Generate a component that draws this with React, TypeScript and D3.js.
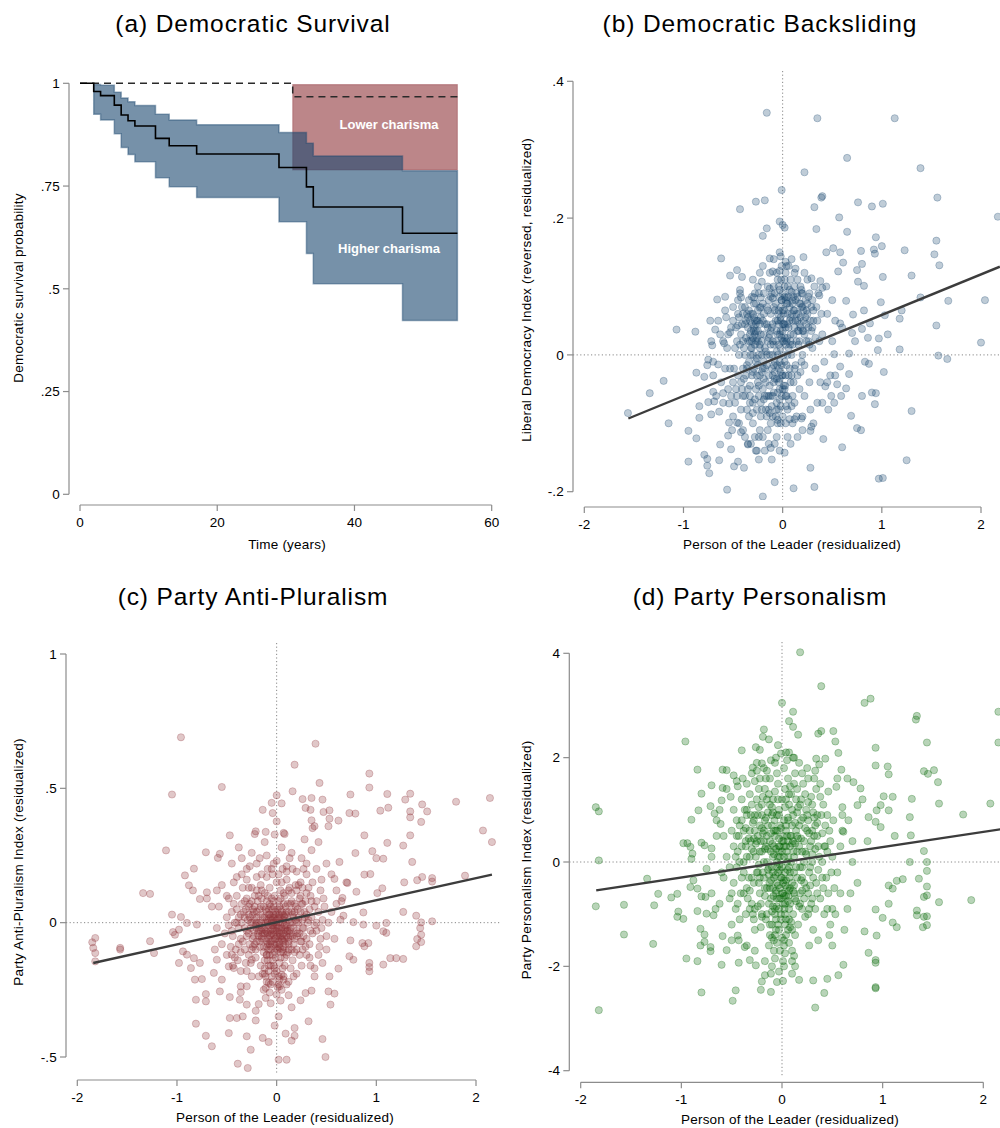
import React from 'react';
import * as d3 from 'd3';

// ---------- (a) Kaplan-Meier survival ----------
const highTime = [0, 2, 3, 5, 6, 7, 8, 11, 13, 17, 29, 33, 34, 47, 55];
const highSurv = [1, 0.98, 0.97, 0.947, 0.923, 0.909, 0.896, 0.866, 0.848, 0.828, 0.795, 0.748, 0.699, 0.635, 0.635];
const highBandTime = [2, 3, 5, 6, 7, 8, 11, 13, 17, 29, 33, 34, 47, 55];
const highUpper = [0.997, 0.995, 0.978, 0.964, 0.955, 0.946, 0.925, 0.911, 0.899, 0.88, 0.854, 0.823, 0.787, 0.787];
const highLower = [0.925, 0.911, 0.877, 0.844, 0.827, 0.809, 0.77, 0.748, 0.722, 0.663, 0.586, 0.512, 0.423, 0.423];

const lowTime = [0, 31, 55];
const lowSurv = [1, 0.967, 0.967];
const lowBandTime = [31, 55];
const lowUpper = [0.997, 0.997];
const lowLower = [0.789, 0.789];

const survTicksY = [0, 0.25, 0.5, 0.75, 1];
const survTicksX = [0, 20, 40, 60];

// ---------- (b) Democratic backsliding ----------
const backslidingPoints: [number, number][] = [
  [-0.16, 0.354], [0.35, 0.346], [1.13, 0.346], [0.65, 0.288], [1.39, 0.273], [0.22, 0.267], [-0.01, 0.241],
  [0.39, 0.23], [0.4, 0.232], [1.56, 0.23], [-0.43, 0.213], [-0.27, 0.224], [-0.18, 0.226], [0.32, 0.216], [0.76, 0.223],
  [0.9, 0.217], [1.01, 0.221], [2.17, 0.202], [0.57, 0.201], [-0.03, 0.195], [0.02, 0.186], [0.34, 0.184], [0.0, 0.19],
  [-0.16, 0.185], [-0.2, 0.174], [0.65, 0.18], [0.94, 0.172], [1.0, 0.159], [0.51, 0.156], [0.44, 0.15], [0.58, 0.15],
  [0.79, 0.152], [0.92, 0.154], [0.93, 0.148], [1.23, 0.153], [1.55, 0.167], [1.53, 0.147], [1.58, 0.131], [-0.62, 0.141],
  [-0.13, 0.141], [-0.02, 0.144], [0.03, 0.136], [0.21, 0.143], [0.61, 0.135], [0.8, 0.133], [0.75, 0.124], [0.56, 0.122],
  [-0.46, 0.124], [-0.53, 0.116], [-0.41, 0.114], [-0.23, 0.12], [-0.1, 0.122], [-0.03, 0.123], [0.13, 0.126], [0.29, 0.112],
  [0.38, 0.108], [1.01, 0.114], [1.3, 0.116], [0.76, 0.107], [0.82, 0.101], [-0.21, 0.107], [-0.13, 0.097], [-0.43, 0.095],
  [-0.42, 0.084], [-0.66, 0.081], [-0.58, 0.085], [-0.29, 0.084], [-0.22, 0.084], [-0.1, 0.083], [0.04, 0.084], [0.09, 0.092],
  [0.19, 0.09], [0.4, 0.098], [0.37, 0.087], [0.64, 0.079], [1.39, 0.084], [1.67, 0.079], [2.04, 0.08], [0.99, 0.077],
  [-0.58, 0.065], [-0.41, 0.07], [-0.32, 0.06], [-0.23, 0.069], [0.71, 0.059], [0.82, 0.065], [1.18, 0.053], [1.03, 0.058],
  [1.2, 0.065], [-0.73, 0.05], [-0.57, 0.055], [-0.45, 0.043], [0.58, 0.046], [0.88, 0.046], [1.55, 0.043], [-1.07, 0.037],
  [-0.88, 0.034], [-0.68, 0.037], [-0.63, 0.03], [-0.53, 0.033], [0.8, 0.038], [0.7, 0.032], [0.86, 0.025], [0.97, 0.024],
  [1.06, 0.03], [-0.71, 0.014], [-0.59, 0.017], [0.73, 0.02], [1.18, 0.008], [0.96, 0.007], [2.0, 0.018], [1.57, -0.001],
  [1.66, -0.006], [-0.75, -0.007], [-0.76, -0.015], [-0.65, -0.014], [0.52, 0.001], [0.67, 0.002], [0.83, -0.01], [0.87, -0.013],
  [0.58, -0.017], [0.67, -0.028], [1.02, -0.025], [-0.87, -0.026], [-0.79, -0.032], [-0.7, -0.03], [-1.2, -0.038], [-1.34, -0.056],
  [0.53, -0.03], [0.55, -0.043], [0.64, -0.049], [0.43, -0.046], [0.9, -0.055], [0.94, -0.056], [0.49, -0.06], [0.59, -0.06],
  [0.8, -0.06], [-0.7, -0.054], [-0.6, -0.056], [-0.69, -0.068], [-0.75, -0.069], [-0.84, -0.075], [-0.84, -0.092], [-0.72, -0.087],
  [-0.64, -0.083], [-0.54, -0.071], [0.93, -0.072], [0.69, -0.089], [1.3, -0.082], [-1.56, -0.085], [-1.15, -0.1], [-0.95, -0.111],
  [-0.87, -0.122], [-0.54, -0.099], [-0.46, -0.099], [-0.51, -0.11], [-0.55, -0.118], [-0.63, -0.131], [-0.42, -0.113], [-0.35, -0.131],
  [-0.27, -0.14], [-0.24, -0.12], [-0.12, -0.136], [0.02, -0.143], [0.07, -0.094], [0.12, -0.094], [0.19, -0.093], [0.28, -0.111],
  [0.29, -0.105], [0.41, -0.123], [0.75, -0.107], [0.79, -0.11], [0.6, -0.135], [-0.79, -0.146], [-0.76, -0.152], [-0.76, -0.162],
  [-0.74, -0.173], [-0.95, -0.156], [-0.64, -0.154], [-0.52, -0.138], [-0.49, -0.163], [-0.45, -0.156], [-0.39, -0.165], [-0.24, -0.153],
  [-0.11, -0.153], [1.25, -0.154], [0.28, -0.165], [0.97, -0.181], [1.01, -0.18], [-0.08, -0.186], [0.11, -0.195], [0.32, -0.193],
  [-0.56, -0.197], [-0.2, -0.207],
  [-0.3, 0.06], [-0.28, 0.03], [-0.32, 0.01], [-0.27, -0.01], [-0.25, 0.02], [-0.35, 0.04], [-0.38, 0.0], [-0.4, -0.02],
  [-0.42, 0.03], [-0.45, -0.03], [-0.48, 0.01], [-0.5, -0.04], [-0.35, -0.05], [-0.3, -0.07], [-0.25, -0.04], [-0.2, -0.02],
  [-0.18, 0.01], [-0.15, 0.04], [-0.12, 0.06], [-0.1, 0.02], [-0.08, -0.01], [-0.05, 0.03], [-0.02, 0.05], [0.0, 0.02],
  [0.02, -0.01], [0.03, 0.04], [0.05, 0.06], [0.06, 0.01], [0.08, 0.03], [0.1, 0.05], [0.12, -0.02], [0.14, 0.02],
  [0.16, 0.06], [0.18, 0.04], [0.2, 0.0], [0.22, 0.03], [0.25, 0.06], [0.28, 0.05], [0.3, 0.01], [0.33, -0.02],
  [0.27, -0.04], [0.22, -0.06], [0.17, -0.05], [0.12, -0.07], [0.08, -0.04], [0.04, -0.06], [0.0, -0.03], [-0.03, -0.05],
  [-0.06, -0.07], [-0.09, -0.04], [-0.12, -0.06], [-0.14, -0.03], [-0.17, -0.08], [-0.2, -0.05], [-0.22, -0.09], [-0.26, -0.08],
  [-0.3, -0.1], [-0.34, -0.09], [-0.38, -0.06], [-0.42, -0.08], [-0.46, -0.06], [-0.5, -0.09], [-0.55, -0.05], [-0.58, -0.02],
  [-0.6, 0.02], [-0.62, -0.04], [-0.52, 0.04], [-0.45, 0.06], [-0.38, 0.07], [-0.22, 0.07], [-0.08, 0.09], [0.02, 0.1],
  [0.1, 0.08], [0.2, 0.09], [0.3, 0.08], [0.35, 0.05], [0.4, 0.03], [0.42, -0.01], [0.38, -0.04], [0.35, -0.07],
  [0.28, -0.08], [0.2, -0.09], [0.1, -0.1], [0.0, -0.09], [-0.05, -0.1], [-0.1, -0.09], [-0.15, -0.11], [-0.2, -0.12],
  [-0.28, -0.12], [-0.05, 0.0], [-0.1, 0.0], [0.05, 0.0], [-0.02, 0.01], [-0.03, 0.03], [0.01, 0.06], [0.06, 0.04],
  [-0.07, 0.05], [-0.13, 0.03], [-0.18, -0.02], [-0.24, 0.0], [-0.29, 0.04], [-0.33, 0.02], [-0.31, -0.03], [-0.16, -0.06],
  [-0.11, -0.02], [-0.04, -0.02], [0.03, -0.03], [0.09, 0.0], [0.13, 0.05], [0.07, 0.07], [-0.01, 0.08], [-0.06, 0.12],
  [0.04, 0.13], [0.15, 0.11], [-0.15, 0.1], [-0.25, 0.1], [0.25, 0.11], [-0.08, -0.13], [0.05, -0.12], [-0.18, -0.14],
  [0.15, -0.12], [-0.35, -0.13], [-0.4, -0.11], [0.45, 0.06], [0.5, 0.02], [0.48, -0.03], [-0.65, 0.05], [-0.7, -0.01],
  [-0.02, 0.035], [0.01, 0.045], [-0.04, 0.015], [0.02, 0.025], [-0.01, -0.015], [-0.06, -0.035], [-0.03, -0.065], [-0.09, -0.055],
  [-0.28, 0.015], [-0.31, 0.045], [-0.26, 0.05], [0.04, 0.075], [0.11, 0.065], [0.17, 0.075], [0.23, 0.055], [-0.19, -0.035],
  [-0.02, 0.07], [0.0, 0.09], [0.02, 0.11], [-0.01, 0.13], [0.03, 0.08], [0.05, 0.1], [0.07, 0.05], [0.09, 0.06],
  [0.11, 0.03], [0.13, 0.08], [0.15, 0.05], [0.17, 0.02], [0.19, 0.07], [0.21, 0.05], [0.23, 0.08], [0.26, 0.04],
  [0.29, 0.07], [0.31, 0.05], [0.24, 0.02], [0.19, -0.01], [0.15, -0.03], [0.11, -0.04], [0.07, -0.02], [0.04, 0.02],
  [0.01, 0.0], [-0.01, -0.03], [-0.03, -0.01], [-0.05, 0.05], [-0.07, 0.02], [-0.09, 0.07], [-0.11, 0.04], [-0.13, 0.0],
  [-0.15, 0.02], [-0.17, -0.04], [-0.19, 0.03], [-0.21, 0.0], [-0.23, -0.03], [-0.25, 0.05], [-0.27, 0.02], [-0.29, -0.02],
  [-0.31, 0.02], [-0.33, 0.05], [-0.35, 0.02], [-0.37, -0.03], [-0.3, 0.0], [-0.28, 0.05], [-0.32, 0.035], [-0.26, 0.025],
  [-0.34, -0.01], [-0.24, -0.06], [-0.21, -0.08], [-0.18, -0.06], [-0.14, -0.08], [-0.1, -0.06], [-0.07, -0.09], [-0.04, -0.08],
  [-0.01, -0.06], [0.02, -0.05], [0.05, -0.08], [-0.02, -0.1], [-0.06, -0.12], [-0.12, -0.1], [-0.16, -0.09], [-0.23, -0.11],
  [-0.33, -0.07], [-0.41, -0.05], [-0.44, 0.0], [-0.47, 0.04], [-0.4, 0.02], [-0.36, 0.06], [-0.2, 0.05], [-0.16, 0.07],
  [-0.11, 0.09], [-0.04, 0.1], [0.08, 0.11], [0.12, 0.1], [-0.13, 0.12], [-0.19, 0.09], [0.18, 0.1], [0.27, 0.09],
  [0.32, 0.1], [0.22, 0.12], [-0.03, 0.15], [0.09, 0.14], [-0.09, 0.14], [-0.2, 0.13], [-0.3, 0.11], [-0.43, 0.09],
  [-0.5, 0.07], [-0.56, 0.01], [-0.53, -0.02], [-0.48, -0.07], [-0.44, -0.1], [-0.38, -0.12], [-0.32, -0.13], [-0.26, -0.14],
  [-0.14, -0.13], [-0.03, -0.14], [0.08, -0.13], [0.2, -0.11], [0.31, -0.1], [0.4, -0.07], [0.45, -0.04], [0.39, 0.06],
  [0.36, 0.09], [0.44, 0.1], [0.5, 0.08], [0.53, 0.05], [0.46, -0.08], [0.52, -0.07], [0.6, 0.04], [-0.67, -0.06],
  [-0.72, 0.02], [-0.6, -0.07], [0.0, 0.045], [0.015, 0.065], [-0.035, 0.085], [0.045, 0.025], [-0.055, -0.015], [0.035, -0.075],
  [-0.08, -0.025], [0.06, 0.085], [-0.015, 0.11], [0.025, -0.045], [-0.045, 0.06], [0.075, 0.015], [-0.3, 0.025], [-0.27, 0.045],
  [-0.25, 0.065], [-0.22, 0.03], [-0.29, 0.075], [0.14, 0.09], [0.18, 0.055], [0.25, 0.075], [0.1, 0.075], [0.16, 0.035],
  [-0.43, 0.015], [-0.41, 0.045], [-0.39, -0.035], [-0.37, 0.025], [-0.36, -0.015], [-0.34, 0.065], [-0.33, -0.045], [-0.32, 0.0],
  [-0.31, 0.085], [-0.3, -0.025], [-0.29, 0.035], [-0.28, -0.065], [-0.27, 0.075], [-0.26, -0.005], [-0.25, 0.035], [-0.24, -0.045],
  [-0.23, 0.015], [-0.22, 0.055], [-0.21, -0.025], [-0.2, 0.075], [-0.19, -0.065], [-0.18, 0.045], [-0.17, 0.005], [-0.16, -0.015],
  [-0.15, 0.065], [-0.14, 0.025], [-0.13, -0.045], [-0.12, 0.085], [-0.11, -0.075], [-0.1, 0.045], [-0.09, 0.015], [-0.08, -0.035],
  [-0.07, 0.075], [-0.06, 0.005], [-0.05, -0.055], [-0.04, 0.045], [-0.03, 0.095], [-0.02, -0.025], [-0.01, 0.025], [0.0, 0.065],
  [0.01, -0.045], [0.02, 0.085], [0.03, 0.015], [0.04, -0.015], [0.05, 0.045], [0.06, -0.065], [0.07, 0.095], [0.08, 0.055],
  [0.09, -0.03], [0.1, 0.015], [0.11, 0.085], [0.12, 0.04], [0.13, -0.015], [0.14, 0.06], [0.15, 0.085], [0.16, 0.015],
  [0.17, 0.045], [0.18, -0.025], [0.19, 0.095], [0.2, 0.035], [0.21, 0.065], [0.22, -0.015], [0.24, 0.045], [0.26, 0.085],
  [0.27, 0.015], [0.29, 0.035], [0.31, 0.065], [0.33, 0.025], [-0.35, 0.055], [-0.33, 0.03], [-0.31, 0.01], [-0.29, 0.055],
  [-0.27, 0.035], [-0.25, -0.015], [-0.23, 0.045], [-0.21, 0.02], [-0.02, 0.055], [0.0, 0.035], [-0.04, 0.065], [0.02, 0.045],
  [-0.01, 0.08], [0.01, 0.02], [-0.03, -0.035], [0.03, -0.06], [-0.06, -0.08], [-0.02, -0.075], [-0.08, 0.065], [-0.12, 0.035],
  [-0.16, 0.045], [-0.14, -0.06], [-0.1, -0.03], [-0.06, 0.035], [0.05, 0.075], [0.08, 0.02], [0.12, 0.065], [0.15, 0.035],
  [0.18, 0.075], [0.21, 0.035], [0.24, 0.065], [-0.38, 0.045], [-0.4, -0.06], [-0.46, 0.02], [-0.49, -0.02], [-0.44, 0.055],
  [-0.3, -0.085], [-0.22, -0.07], [-0.13, -0.085], [-0.05, -0.095], [0.03, -0.1], [0.09, -0.075], [0.14, -0.09],
  [-0.55, 0.03], [-0.52, -0.06], [-0.5, 0.05], [-0.47, -0.05], [-0.45, 0.08], [-0.42, -0.04], [-0.4, 0.06], [-0.37, 0.05],
  [-0.36, -0.08], [-0.34, 0.08], [-0.28, 0.09], [-0.24, 0.09], [-0.19, 0.06], [-0.14, 0.08], [-0.09, 0.1], [-0.05, 0.11],
  [0.03, 0.12], [0.06, 0.13], [0.12, 0.12], [0.2, 0.07], [0.26, 0.02], [0.3, 0.04], [0.34, 0.07], [0.37, 0.02],
  [-0.36, -0.02], [-0.39, 0.01], [-0.26, -0.03], [-0.23, 0.01], [-0.19, -0.01], [0.0, -0.05], [-0.04, -0.04], [0.06, -0.03],
  [-0.09, -0.015], [-0.16, 0.0], [-0.12, 0.015], [0.1, -0.06], [-0.27, -0.05], [-0.33, -0.06],
];
const backslidingFit: [number, number][] = [[-1.556, -0.093], [2.19, 0.129]];
const backslidingTicksY = [-0.2, 0, 0.2, 0.4];

// ---------- (c) Party anti-pluralism ----------
const antiPluralismPoints: [number, number][] = [
  [-0.96, 0.69], [0.39, 0.666], [0.18, 0.588], [-0.55, 0.505], [-1.05, 0.477], [0.43, 0.52], [0.93, 0.555], [0.93, 0.503],
  [0.74, 0.477], [1.11, 0.479], [1.34, 0.48], [1.29, 0.458], [2.14, 0.464], [1.8, 0.45], [1.46, 0.44], [1.12, 0.428],
  [1.04, 0.417], [1.51, 0.414], [1.34, 0.414], [1.34, 0.392], [1.45, 0.375], [0.73, 0.408], [0.79, 0.406], [0.16, 0.489],
  [0.0, 0.474], [-0.05, 0.446], [0.05, 0.444], [-0.14, 0.42], [-0.04, 0.408], [0.26, 0.46], [0.35, 0.464], [0.46, 0.458],
  [0.29, 0.427], [0.34, 0.42], [0.47, 0.412], [0.53, 0.418], [0.53, 0.387], [0.62, 0.38], [0.35, 0.381], [0.0, 0.377],
  [2.07, 0.343], [2.16, 0.3], [0.88, 0.325], [1.11, 0.297], [1.27, 0.287], [1.34, 0.325], [0.38, 0.359], [0.52, 0.359],
  [0.36, 0.352], [-0.11, 0.338], [-0.02, 0.328], [0.07, 0.334], [-0.21, 0.34], [-0.47, 0.325], [-1.11, 0.269], [-0.71, 0.262],
  [-0.57, 0.256], [-0.59, 0.241], [0.96, 0.266], [1.0, 0.24], [1.07, 0.238], [0.79, 0.259], [0.63, 0.226], [1.36, 0.226],
  [-0.83, 0.201], [-0.92, 0.176], [0.88, 0.179], [0.94, 0.181], [0.58, 0.163], [1.89, 0.175], [1.56, 0.166], [1.56, 0.153],
  [1.41, 0.158], [1.46, 0.17], [1.28, 0.15], [0.71, 0.148], [1.06, 0.128], [0.8, 0.115], [1.01, 0.11], [0.66, 0.092],
  [-1.34, 0.11], [-1.27, 0.107], [-0.88, 0.139], [-0.84, 0.12], [-0.77, 0.088], [-0.7, 0.113], [-1.05, 0.03], [-0.96, 0.021],
  [-0.9, -0.001], [-0.8, -0.007], [-1.04, -0.035], [-1.02, -0.045], [-0.98, -0.026], [-1.82, -0.057], [-1.85, -0.073], [-1.84, -0.094],
  [-1.82, -0.113], [-1.82, -0.144], [-1.57, -0.094], [-1.57, -0.1], [-1.27, -0.069], [-1.23, -0.113], [-0.98, -0.15], [-0.86, -0.169],
  [-0.94, -0.107], [-0.9, -0.119], [-0.83, -0.132], [-0.77, -0.15], [-0.82, -0.212], [-0.75, -0.21], [-0.81, -0.287], [-0.71, -0.266],
  [-0.71, -0.293], [-0.81, -0.376], [-0.71, -0.421], [-0.65, -0.46], [-0.48, -0.411], [-0.47, -0.355], [-0.4, -0.355], [-0.34, -0.349],
  [-0.21, -0.364], [-0.3, -0.423], [-0.26, -0.473], [-0.39, -0.525], [-0.29, -0.541], [-0.14, -0.429], [-0.08, -0.444], [-0.02, -0.383],
  [0.02, -0.349], [0.09, -0.413], [0.18, -0.392], [0.18, -0.421], [0.15, -0.439], [0.32, -0.367], [0.15, -0.315], [0.46, -0.433],
  [0.49, -0.5], [0.02, -0.51], [0.1, -0.51], [0.24, -0.289], [0.35, -0.253], [0.29, -0.262], [0.54, -0.305], [0.52, -0.256],
  [0.58, -0.264], [0.53, -0.2], [0.62, -0.171], [0.77, -0.138], [0.73, -0.125], [0.93, -0.15], [0.93, -0.181], [0.93, -0.165],
  [1.07, -0.156], [1.14, -0.132], [1.2, -0.132], [1.27, -0.135], [0.88, -0.088], [0.86, -0.076], [0.92, -0.076], [1.07, -0.032],
  [1.1, -0.038], [1.4, -0.088], [1.45, -0.072], [1.45, -0.045], [1.41, -0.061], [1.4, 0.026], [1.45, 0.001], [1.44, -0.02],
  [1.56, 0.005], [1.27, 0.04], [1.1, -0.001], [1.0, -0.011], [0.87, -0.007], [0.77, 0.002], [0.74, -0.066], [0.87, 0.038],
  [0.67, 0.026], [0.64, 0.011], [-0.55, -0.212], [-0.57, -0.256], [-0.47, -0.277], [-0.36, -0.237], [-0.3, -0.237], [-0.37, -0.287],
  [-0.36, -0.259], [-0.3, -0.305], [-0.21, -0.328], [-0.18, -0.303], [-0.11, -0.243], [0.0, -0.268], [0.03, -0.237], [0.07, -0.212],
  [0.05, -0.194], [-0.08, -0.225], [-0.11, -0.2], [-0.43, -0.169], [-0.48, -0.163], [-0.6, -0.138], [-0.63, -0.187], [-0.45, -0.119],
  [-0.31, -0.15], [-0.25, -0.138],
  [-0.45, 0.22], [-0.4, 0.17], [-0.35, 0.24], [-0.3, 0.2], [-0.25, 0.26], [-0.2, 0.22], [-0.15, 0.18], [-0.1, 0.25],
  [-0.05, 0.2], [0.0, 0.23], [0.05, 0.28], [0.1, 0.21], [0.15, 0.26], [0.2, 0.19], [0.25, 0.24], [0.3, 0.22],
  [0.35, 0.27], [0.4, 0.2], [0.45, 0.16], [0.5, 0.22], [0.55, 0.18], [-0.55, 0.14], [-0.5, 0.1], [-0.6, 0.12],
  [-0.65, 0.06], [-0.7, 0.09], [0.6, 0.12], [0.65, 0.08], [0.7, 0.15], [-0.12, 0.3], [0.08, 0.33], [0.28, 0.31],
  [-0.22, 0.33], [0.42, 0.3], [-0.38, 0.28], [0.22, 0.14], [-0.28, 0.13], [0.12, 0.12],
  [-0.5, 0.02], [-0.45, -0.03], [-0.4, 0.05], [-0.38, -0.08], [-0.35, 0.0], [-0.32, 0.08], [-0.3, -0.05], [-0.28, 0.03],
  [-0.25, -0.1], [-0.22, 0.06], [-0.2, -0.02], [-0.18, 0.1], [-0.15, -0.06], [-0.12, 0.02], [-0.1, -0.12], [-0.08, 0.05],
  [-0.05, -0.04], [-0.03, 0.0], [0.0, -0.08], [0.02, 0.03], [0.05, -0.02], [0.07, 0.07], [0.1, -0.05], [0.12, 0.01],
  [0.15, -0.1], [0.18, 0.04], [0.2, -0.03], [0.23, 0.09], [0.25, -0.07], [0.28, 0.02], [0.3, -0.12], [0.33, 0.05],
  [0.36, -0.04], [0.4, 0.08], [0.43, -0.09], [0.46, 0.01], [0.5, -0.05], [0.55, 0.04], [-0.55, -0.08], [-0.6, -0.02],
  [-0.48, 0.09], [-0.42, -0.13], [-0.34, 0.13], [-0.26, -0.15], [-0.16, 0.14], [-0.06, -0.16], [0.04, 0.12], [0.14, -0.17],
  [0.24, 0.15], [0.34, -0.16], [0.44, 0.12], [-0.02, 0.1], [-0.1, 0.08], [0.08, -0.13], [-0.14, -0.19], [0.1, 0.16],
  [-0.2, 0.17], [0.2, -0.19], [-0.04, -0.22], [0.05, -0.25], [-0.09, 0.2], [0.16, 0.2], [-0.3, 0.16], [-0.36, -0.18],
  [0.3, 0.18], [0.38, -0.2],
  [-0.05, -0.01], [0.0, 0.01], [0.03, -0.04], [-0.08, -0.06], [0.06, 0.0], [-0.02, -0.06], [0.09, -0.02], [-0.11, -0.03],
  [0.01, -0.1], [-0.07, 0.03], [0.04, 0.05], [0.12, -0.07], [-0.15, 0.0], [-0.18, -0.05], [0.15, 0.0], [-0.22, -0.08],
  [-0.25, 0.0], [-0.13, -0.09], [0.07, -0.09], [0.18, -0.06], [-0.03, 0.06], [0.1, 0.04], [-0.28, -0.04], [0.22, 0.0],
  [-0.01, -0.13], [-0.06, -0.1], [0.03, -0.15], [-0.12, -0.14], [0.11, -0.11], [-0.17, 0.05], [0.14, 0.07], [-0.24, 0.03],
  [0.26, -0.02], [-0.32, -0.02], [0.3, 0.03], [-0.38, 0.02], [0.38, -0.01], [-0.44, -0.05], [0.42, 0.04], [0.0, 0.15],
  [-0.04, 0.18], [0.06, 0.2], [0.02, -0.2], [-0.08, -0.18], [0.12, -0.22],
  [-0.04, 0.02], [0.02, -0.02], [-0.06, -0.03], [0.05, -0.06], [-0.1, 0.01], [0.08, 0.02], [-0.01, 0.04], [0.01, -0.05],
  [-0.09, -0.08], [0.13, -0.04], [-0.16, -0.03], [0.16, 0.03], [-0.2, 0.02], [-0.07, -0.12], [-0.12, -0.17], [-0.02, -0.17],
  [-0.02, -0.03], [0.01, -0.02], [0.04, 0.0], [-0.05, 0.01], [0.07, -0.04], [-0.08, -0.01], [0.1, -0.01], [-0.11, 0.0],
  [0.13, -0.03], [-0.14, -0.04], [0.16, -0.05], [-0.17, -0.01], [0.19, 0.01], [-0.2, 0.0], [0.21, -0.04], [-0.23, -0.05],
  [0.24, 0.04], [-0.26, -0.02], [0.27, -0.05], [-0.29, 0.01], [0.31, 0.0], [-0.33, 0.04], [0.33, -0.08], [-0.36, -0.06],
  [0.35, 0.02], [-0.4, 0.0], [0.4, -0.03], [-0.02, -0.08], [0.02, -0.07], [-0.06, -0.07], [0.06, -0.05], [-0.1, -0.07],
  [0.09, -0.08], [-0.13, -0.06], [0.12, -0.1], [-0.17, -0.09], [0.17, -0.08], [-0.2, -0.07], [0.2, -0.1], [-0.24, -0.09],
  [0.23, -0.12], [-0.04, -0.12], [0.04, -0.11], [-0.09, -0.14], [0.08, -0.16], [-0.03, -0.16], [0.0, -0.18], [-0.05, -0.2],
  [0.03, -0.21], [-0.1, -0.22], [0.07, -0.2], [-0.13, -0.25], [-0.07, -0.26], [0.01, -0.24], [0.1, -0.23], [-0.16, -0.16],
  [0.16, -0.14], [-0.21, -0.13], [0.26, -0.1], [-0.28, -0.12], [-0.32, -0.1], [0.29, -0.09], [-0.01, 0.03], [0.03, 0.06],
  [-0.04, 0.05], [0.06, 0.03], [-0.07, 0.07], [0.09, 0.06], [-0.1, 0.04], [0.12, 0.04], [-0.13, 0.06], [0.15, 0.08],
  [-0.16, 0.03], [0.18, 0.07], [-0.19, 0.08], [0.21, 0.05], [-0.23, 0.04], [0.26, 0.07], [-0.27, 0.07], [0.29, 0.08],
  [-0.31, 0.05], [0.34, 0.1], [-0.05, 0.09], [0.02, 0.08], [0.08, 0.1], [-0.12, 0.11], [0.13, 0.13], [-0.07, 0.13],
  [0.05, 0.15], [-0.15, 0.12], [0.2, 0.12], [-0.22, 0.1], [0.26, 0.13], [-0.25, 0.13], [0.32, 0.13], [-0.4, 0.1],
  [0.38, 0.06], [-0.45, 0.04], [0.45, -0.02], [-0.48, -0.01], [0.48, 0.06], [-0.52, -0.04], [0.52, 0.0], [-0.46, -0.09],
  [0.42, -0.12], [-0.5, -0.12], [0.5, -0.1], [-0.58, 0.06], [0.58, -0.06], [-0.62, -0.1], [0.6, 0.07], [-0.1, 0.17],
  [0.1, 0.19], [-0.03, 0.22], [0.02, 0.18], [0.13, 0.24], [-0.17, 0.24], [-0.27, 0.21], [0.27, 0.2], [0.36, 0.15],
  [-0.35, 0.18], [-0.43, 0.15], [0.47, 0.09], [-0.06, -0.3], [0.04, -0.29], [-0.11, -0.28], [0.12, -0.27], [-0.18, -0.2],
  [0.17, -0.2], [-0.25, -0.2], [0.25, -0.16], [-0.3, -0.18], [0.33, -0.13], [-0.39, -0.14], [0.38, -0.17], [-0.44, -0.16],
  [0.46, -0.15], [0.0, -0.05], [-0.03, -0.045], [0.025, -0.035], [-0.065, -0.045], [0.055, -0.065], [-0.045, -0.025], [0.085, -0.025],
  [-0.095, -0.035], [0.115, -0.055], [-0.125, -0.025], [0.015, 0.015], [-0.025, 0.02], [0.045, 0.02], [-0.075, 0.015], [0.075, 0.025],
  [-0.01, -0.095], [0.035, -0.095], [-0.055, -0.09], [0.065, -0.11], [-0.085, -0.1],
  [-0.38, -0.02], [-0.36, 0.03], [-0.34, -0.07], [-0.32, 0.02], [-0.3, -0.03], [-0.28, 0.06], [-0.27, -0.08], [-0.26, 0.0],
  [-0.24, 0.05], [-0.23, -0.03], [-0.22, 0.01], [-0.21, -0.1], [-0.2, 0.04], [-0.19, -0.04], [-0.18, 0.0], [-0.17, -0.07],
  [-0.16, 0.06], [-0.15, -0.02], [-0.14, 0.02], [-0.13, -0.11], [-0.12, -0.04], [-0.11, 0.05], [-0.1, -0.09], [-0.09, 0.0],
  [-0.08, 0.03], [-0.07, -0.05], [-0.06, 0.06], [-0.05, -0.07], [-0.04, -0.01], [-0.03, 0.03], [-0.02, -0.11], [-0.01, 0.0],
  [0.0, -0.03], [0.01, 0.05], [0.02, -0.09], [0.03, 0.02], [0.04, -0.05], [0.05, 0.04], [0.06, -0.1], [0.07, 0.01],
  [0.08, -0.06], [0.09, 0.03], [0.1, -0.03], [0.11, 0.07], [0.12, -0.08], [0.13, 0.0], [0.14, -0.05], [0.15, 0.04],
  [0.17, -0.02], [0.18, -0.11], [0.19, 0.06], [0.2, -0.05], [0.22, 0.02], [0.24, -0.07], [0.25, 0.07], [0.27, -0.02],
  [0.28, 0.04], [0.3, -0.06], [0.32, 0.01], [0.34, -0.03], [-0.05, 0.0], [-0.03, -0.02], [0.0, -0.01], [0.02, 0.0],
  [-0.06, 0.02], [0.05, -0.03], [-0.09, -0.04], [0.08, -0.01], [-0.12, -0.01], [0.11, -0.03], [-0.15, -0.05], [0.14, -0.02],
  [-0.18, -0.03], [0.17, 0.02], [-0.21, -0.01], [0.2, 0.0], [-0.24, -0.06], [0.23, -0.04], [-0.27, 0.02], [0.26, 0.01],
  [-0.01, -0.06], [0.03, -0.08], [-0.07, -0.08], [0.07, -0.07], [-0.1, -0.12], [0.1, -0.12], [-0.04, -0.14], [0.04, -0.13],
  [-0.08, -0.16], [0.06, -0.17], [-0.02, -0.19], [-0.12, -0.19], [-0.06, -0.23], [0.02, -0.23], [-0.03, 0.08], [0.04, 0.09],
  [-0.09, 0.1], [0.07, 0.11], [-0.15, 0.09], [0.15, 0.11], [-0.2, 0.12], [0.19, 0.14], [-0.25, 0.08], [0.24, 0.1],
  [-0.3, 0.09], [0.3, 0.11], [-0.35, 0.07], [0.35, 0.08], [-0.42, 0.0], [-0.43, 0.07], [-0.41, -0.1], [0.4, 0.0],
  [0.44, -0.06], [-0.36, -0.11],
];
const antiPluralismFit: [number, number][] = [[-1.84, -0.15], [2.16, 0.179]];
const antiPluralismTicksY = [-0.5, 0, 0.5, 1];

// ---------- (d) Party personalism ----------
const personalismPoints: [number, number][] = [
  [0.18, 4.02], [0.39, 3.37], [0.0, 3.05], [0.82, 3.05], [0.88, 3.13], [2.15, 2.88], [2.15, 2.29], [1.34, 2.8],
  [1.33, 2.73], [0.11, 2.88], [0.07, 2.7], [0.11, 2.59], [0.16, 2.44], [-0.18, 2.54], [-0.19, 2.4], [-0.13, 2.35],
  [-0.96, 2.31], [0.36, 2.46], [0.39, 2.51], [0.51, 2.51], [0.53, 2.31], [1.44, 2.29], [0.93, 2.19], [-0.4, 2.14],
  [-0.26, 2.2], [-0.22, 2.15], [-0.04, 2.24], [-0.01, 2.08], [0.07, 2.1], [0.11, 2.0], [0.56, 2.09], [0.34, 1.98],
  [0.43, 1.98], [0.37, 1.87], [0.93, 1.85], [1.05, 1.83], [1.06, 1.68], [1.41, 1.74], [1.51, 1.76], [1.45, 1.69],
  [1.55, 1.53], [0.59, 1.77], [-0.84, 1.77], [-0.59, 1.77], [-0.55, 1.76], [-0.29, 1.81], [-0.2, 1.89], [-0.48, 1.66],
  [-0.45, 1.55], [-0.35, 1.5], [-0.7, 1.47], [-0.59, 1.42], [0.65, 1.6], [0.71, 1.53], [0.78, 1.41], [0.54, 1.44],
  [2.07, 1.12], [1.8, 0.91], [1.56, 1.12], [1.29, 1.21], [1.01, 1.26], [1.1, 1.25], [1.06, 0.99], [0.98, 1.09],
  [0.94, 0.99], [0.86, 0.86], [0.93, 0.77], [0.98, 0.67], [1.12, 0.5], [1.27, 0.86], [1.28, 0.51], [0.75, 1.09],
  [0.6, 1.05], [0.66, 0.8], [0.61, 0.58], [1.41, 0.21], [1.44, 0.0], [1.27, 0.0], [1.44, -0.17], [1.36, -0.32],
  [1.44, -0.47], [1.56, -0.77], [1.88, -0.73], [1.41, -0.67], [1.44, -0.64], [1.34, -0.93], [1.34, -1.02], [1.41, -1.05],
  [1.44, -1.04], [1.4, -1.25], [1.44, -1.21], [1.2, -0.33], [1.14, -0.36], [1.06, -0.45], [1.1, -0.51], [1.06, -0.8],
  [1.1, -1.16], [1.14, -1.25], [1.0, -1.07], [0.93, -0.91], [0.82, -1.33], [0.94, -1.41], [0.86, -1.74], [0.93, -1.88],
  [0.93, -1.93], [0.93, -2.4], [0.93, -2.42], [0.61, -1.97], [0.56, -2.17], [0.45, -2.24], [0.31, -2.27], [0.42, -2.51],
  [0.33, -2.79], [0.1, -2.14], [0.17, -2.26], [0.01, -2.28], [-0.05, -2.3], [-0.11, -2.49], [-0.21, -2.45], [-0.2, -2.29],
  [-0.17, -2.17], [-0.11, -2.14], [-0.46, -2.46], [-0.49, -2.66], [-0.8, -2.5], [-0.6, -1.97], [-0.43, -1.93], [-0.32, -1.88],
  [-0.26, -1.98], [-0.95, -1.85], [-0.84, -1.9], [-0.81, -1.6], [-0.71, -1.71], [-0.71, -1.63], [-0.77, -1.53], [-0.77, -1.39],
  [-0.81, -1.28], [-0.55, -1.69], [-0.59, -1.42], [-0.44, -1.41], [-0.37, -1.63], [-1.28, -1.57], [-1.57, -1.39], [-1.82, -2.84],
  [-1.85, -0.85], [-1.57, -0.82], [-1.27, -0.83], [-1.23, -0.61], [-1.34, -0.32], [-1.85, 1.05], [-1.82, 0.97], [-1.82, 0.03],
  [-1.1, -0.68], [-1.04, -0.61], [-1.03, -0.95], [-1.04, -1.05], [-0.98, -1.09], [-0.91, -0.48], [-0.88, -0.35], [-0.84, -0.51],
  [-0.8, -0.66], [-0.76, -0.67], [-0.84, -0.94], [-0.75, -0.99], [-0.68, -1.02], [-0.9, 0.81], [-0.83, 0.99], [-0.8, 1.31],
  [-0.98, 0.36], [-0.94, 0.36], [-0.91, 0.29], [-0.89, 0.16], [-0.9, 0.06], [-0.8, 0.37], [-0.77, 0.32], [-0.7, 0.26],
  [-0.75, -0.13], [-0.67, 0.93], [-0.71, 1.07], [-0.61, 0.73], [-0.65, 0.8], [-0.6, 1.18], [-0.51, 1.25],
  [0.6, 0.9], [0.65, -0.9], [0.7, 0.4], [0.75, -0.4], [0.8, 1.2], [0.62, -1.3], [-0.65, 0.5], [-0.7, -0.6],
  [-0.66, -0.9], [-0.62, 1.0], [0.55, 1.6], [-0.55, 1.4], [0.5, -1.6], [-0.5, -1.5], [0.7, 0.0], [-0.7, 0.1],
  [0.85, 0.4], [0.58, 0.3], [-0.58, -0.3], [0.68, -0.6],
  [-0.45, 0.5], [-0.4, -0.3], [-0.35, 0.9], [-0.3, -0.8], [-0.28, 0.2], [-0.25, -0.2], [-0.22, 0.7], [-0.2, -1.0],
  [-0.18, 0.4], [-0.15, -0.5], [-0.12, 1.1], [-0.1, -0.1], [-0.08, 0.6], [-0.05, -0.7], [-0.03, 0.3], [0.0, -0.3],
  [0.02, 0.8], [0.04, -1.1], [0.06, 0.1], [0.08, -0.5], [0.1, 1.0], [0.12, -0.2], [0.15, 0.5], [0.18, -0.8],
  [0.2, 0.2], [0.22, -0.4], [0.25, 0.9], [0.28, -0.1], [0.3, 0.6], [0.33, -0.9], [0.36, 0.3], [0.4, -0.3],
  [0.43, 0.7], [0.46, -0.6], [0.5, 0.1], [0.55, -0.2], [-0.5, -0.6], [-0.55, 0.1], [-0.6, -0.2], [-0.48, 1.0],
  [-0.42, -1.1], [-0.38, 0.0], [-0.32, 1.3], [-0.27, -1.3], [-0.17, 1.4], [-0.07, -1.4], [0.03, 1.4], [0.13, -1.4],
  [0.23, 1.3], [0.31, -1.3], [0.41, 1.1], [0.48, -1.2],
  [-0.05, 0.0], [0.0, 0.2], [0.03, -0.2], [-0.08, -0.3], [0.06, 0.4], [-0.02, -0.5], [0.09, 0.0], [-0.11, 0.2],
  [0.01, -0.8], [-0.07, 0.5], [0.04, 0.6], [0.12, -0.6], [-0.15, 0.0], [-0.18, -0.3], [0.15, 0.2], [-0.22, -0.6],
  [-0.25, 0.4], [-0.13, -0.8], [0.07, -0.9], [0.18, -0.1], [-0.03, 0.9], [0.1, 0.7], [-0.28, -0.4], [0.22, 0.4],
  [-0.01, -1.0], [-0.06, -1.1], [0.03, -1.2], [-0.12, -1.2], [0.11, -1.0], [-0.17, 0.8], [0.14, 1.2], [-0.24, 0.9],
  [0.26, -0.6], [-0.32, 0.1], [0.3, 0.0], [-0.38, 0.6], [0.38, -0.7], [-0.44, 0.2], [0.42, 0.3], [0.0, 1.2],
  [-0.04, 1.5], [0.06, 1.6], [0.02, -1.6], [-0.08, -1.7], [0.12, -1.8], [-0.02, 0.1], [0.01, -0.4], [-0.04, -0.2],
  [0.05, 0.0], [-0.09, -0.5], [-0.1, 0.7], [0.08, 0.3], [-0.2, 0.2], [0.2, -0.3], [-0.35, -0.5], [0.35, 0.5],
  [-0.03, 0.45], [0.02, -0.65], [-0.06, 0.25], [0.04, -0.35], [-0.14, -0.15], [0.13, 0.35], [-0.09, 0.95], [0.07, -0.55],
  [-0.02, 0.3], [0.01, 0.5], [0.04, 0.7], [-0.05, 0.9], [0.07, 1.1], [-0.08, 0.15], [0.1, 0.35], [-0.11, 0.55],
  [0.13, 0.75], [-0.14, 0.95], [0.16, 1.05], [-0.17, 0.25], [0.19, 0.45], [-0.2, 0.65], [0.21, 0.85], [-0.23, 1.05],
  [0.24, 0.15], [-0.26, 0.35], [0.27, 0.55], [-0.29, 0.75], [0.31, 0.95], [-0.33, 0.45], [0.33, 0.25], [-0.36, 0.3],
  [0.35, 0.75], [-0.4, 0.8], [0.4, 0.55], [-0.02, -0.15], [0.02, -0.35], [-0.06, -0.55], [0.06, -0.75], [-0.1, -0.95],
  [0.09, -1.15], [-0.13, -0.25], [0.12, -0.45], [-0.17, -0.65], [0.17, -0.85], [-0.2, -1.05], [0.2, -0.55], [-0.24, -0.85],
  [0.23, -1.05], [-0.04, -0.45], [0.04, -0.65], [-0.09, -0.85], [0.08, -1.25], [-0.03, -1.3], [0.0, -1.45], [-0.05, -1.55],
  [0.03, -1.75], [-0.1, -1.45], [0.07, -1.55], [-0.13, -1.6], [-0.07, -1.85], [0.01, -1.9], [0.1, -1.7], [-0.16, -1.1],
  [0.16, -1.2], [-0.21, -1.25], [0.26, -1.0], [-0.28, -1.1], [-0.32, -0.9], [0.29, -0.8], [-0.01, 0.65], [0.03, 1.05],
  [-0.04, 1.2], [0.06, 0.85], [-0.07, 1.35], [0.09, 1.3], [-0.1, 1.05], [0.12, 1.5], [-0.13, 1.3], [0.15, 0.95],
  [-0.16, 1.6], [0.18, 1.1], [-0.19, 1.25], [0.21, 1.5], [-0.23, 1.4], [0.26, 1.15], [-0.27, 1.55], [0.29, 1.25],
  [-0.31, 0.9], [0.34, 1.4], [-0.05, 1.7], [0.02, 1.8], [0.08, 1.45], [-0.12, 1.6], [0.13, 1.7], [-0.07, 1.9],
  [0.05, 1.95], [-0.15, 1.75], [0.2, 1.7], [-0.22, 1.6], [0.26, 1.6], [-0.25, 1.75], [0.32, 1.6], [-0.4, 1.2],
  [0.38, 1.25], [-0.45, 0.8], [0.45, 0.9], [-0.48, 0.3], [0.48, 0.4], [-0.52, -0.1], [0.52, -0.5], [-0.46, -0.9],
  [0.42, -1.0], [-0.5, -1.2], [0.5, -0.9], [-0.58, 0.5], [0.58, -0.6], [-0.62, -0.8], [0.6, 0.6], [-0.1, -2.0],
  [0.1, -1.9], [-0.03, -2.1], [0.02, -2.0], [0.13, -2.0], [-0.17, -1.9], [-0.27, -1.7], [0.27, -1.6], [0.36, -1.5],
  [-0.35, -1.6], [-0.43, -1.5], [0.47, -1.4], [-0.06, 2.0], [0.04, 2.1], [-0.11, 1.95], [0.12, 2.0], [-0.18, 1.8],
  [0.17, 1.9], [-0.25, 1.9], [0.25, 1.8], [-0.3, 1.7], [0.33, 1.75], [-0.39, 1.6], [0.38, 1.5], [-0.44, 1.45],
  [0.46, 1.35], [0.0, -0.6], [-0.03, -0.7], [0.025, -0.9], [-0.065, -0.25], [0.055, -0.15], [-0.045, 0.6], [0.085, 0.5],
  [-0.095, 0.35], [0.115, 0.2], [-0.125, -0.4], [0.015, 0.4], [-0.025, -0.05], [0.045, 0.2], [-0.075, 0.8], [0.075, -0.3],
  [-0.01, -1.1], [0.035, -0.45], [-0.055, -0.85], [0.065, -0.65], [-0.085, -0.65],
  [-0.38, -0.2], [-0.36, 0.4], [-0.34, -0.7], [-0.32, 0.6], [-0.3, -0.3], [-0.28, 0.8], [-0.27, -0.9], [-0.26, 0.1],
  [-0.24, 0.5], [-0.23, -0.4], [-0.22, 0.2], [-0.21, -0.8], [-0.2, 0.9], [-0.19, -0.2], [-0.18, 0.6], [-0.17, -0.5],
  [-0.16, 0.3], [-0.15, -1.0], [-0.14, 0.7], [-0.13, -0.1], [-0.12, 0.4], [-0.11, -0.7], [-0.1, 0.9], [-0.09, -0.2],
  [-0.08, 0.3], [-0.07, -1.0], [-0.06, 0.6], [-0.05, -0.4], [-0.04, 0.1], [-0.03, -0.9], [-0.02, 0.7], [-0.01, -0.3],
  [0.0, 0.4], [0.01, -0.6], [0.02, 0.1], [0.03, -1.0], [0.04, 0.3], [0.05, -0.5], [0.06, 0.8], [0.07, -0.1],
  [0.08, -0.8], [0.09, 0.5], [0.1, -0.4], [0.11, 0.9], [0.12, 0.1], [0.13, -0.7], [0.14, 0.6], [0.15, -0.3],
  [0.17, 0.3], [0.18, -0.6], [0.19, 0.8], [0.2, -0.9], [0.22, 0.0], [0.24, -0.5], [0.25, 0.6], [0.27, -0.2],
  [0.28, 0.3], [0.3, -0.7], [0.32, 0.5], [0.34, -0.4], [-0.05, -0.1], [-0.03, 0.2], [0.0, -0.1], [0.02, 0.3],
  [-0.06, -0.6], [0.05, 0.5], [-0.09, 0.1], [0.08, -0.2], [-0.12, -0.5], [0.11, 0.4], [-0.15, 0.5], [0.14, -0.1],
  [-0.18, 0.0], [0.17, 0.7], [-0.21, 0.4], [0.2, -0.1], [-0.24, -0.2], [0.23, 0.2], [-0.27, 0.6], [0.26, 0.8],
  [-0.01, -0.7], [0.03, -0.8], [-0.07, -0.9], [0.07, -1.1], [-0.1, -1.2], [0.1, -1.3], [-0.04, -1.2], [0.04, -1.4],
  [-0.08, -1.5], [0.06, -1.3], [-0.02, -1.7], [-0.12, -1.4], [-0.06, -1.3], [0.02, -1.5], [-0.03, 1.0], [0.04, 1.2],
  [-0.09, 1.2], [0.07, 1.3], [-0.15, 1.2], [0.15, 1.4], [-0.2, 1.1], [0.19, 1.2], [-0.25, 1.2], [0.24, 1.0],
  [-0.3, 1.1], [0.3, 1.1], [-0.35, 1.0], [0.35, 0.9], [-0.42, 0.0], [-0.43, 0.5], [-0.41, -0.6], [0.4, 0.0],
  [0.44, -0.3], [-0.36, -1.0],
  [-0.48, -0.4], [-0.46, 0.1], [-0.44, -0.8], [-0.42, 0.7], [-0.4, 0.3], [-0.38, -0.6], [-0.37, 1.0], [-0.35, 0.1],
  [-0.33, -0.3], [-0.31, 0.4], [-0.29, -1.0], [-0.27, 0.9], [0.27, -0.9], [0.29, 0.4], [0.31, -0.3], [0.33, 0.7],
  [0.35, -0.6], [0.37, 0.1], [0.39, 0.9], [0.41, -0.5], [0.43, 0.3], [0.45, -0.9], [0.47, 0.6], [0.49, -0.2],
  [-0.5, 0.6], [-0.52, -0.7], [0.51, 0.8], [0.53, -1.0], [-0.45, -0.1], [0.45, 0.2], [-0.36, 0.65], [0.36, -0.15],
  [-0.32, -0.55], [0.32, 0.85], [-0.28, 0.45], [0.28, -0.45], [-0.23, -0.05], [0.23, 0.65], [-0.19, 0.55], [0.19, -0.35],
  [-0.14, 0.25], [0.14, -0.75], [-0.3, 0.25], [0.3, 0.15], [-0.22, -0.3], [0.22, -0.7], [-0.16, 0.85], [0.16, 0.45],
  [-0.11, -0.35], [0.11, -0.55],
];
const personalismFit: [number, number][] = [[-1.846, -0.543], [2.17, 0.627]];
const personalismTicksY = [-4, -2, 0, 2, 4];

const leaderTicksX = [-2, -1, 0, 1, 2];

const FONT = '"Liberation Sans", Arial, Helvetica, sans-serif';
const AXIS = '#8c8c8c';
const LABEL_SIZE = 13.5;
const LABEL_SPACING = 0.2;
const TITLE_SIZE = 24.5;
const TITLE_SPACING = 0.9;

// Stata-like number labels: drop the leading zero (.5, -.2)
const stataFmt = (d: number) => (d === 0 ? '0' : String(d).replace(/^(-?)0\./, '$1.'));

type Box = { left: number; right: number; top: number; bottom: number };

const YAxis = ({ scale, ticks, x }: { scale: d3.ScaleLinear<number, number>; ticks: number[]; x: number }) => (
  <g>
    <line x1={x} x2={x} y1={scale(d3.min(ticks)!)} y2={scale(d3.max(ticks)!)} stroke={AXIS} strokeWidth={1.2} />
    {ticks.map((t) => (
      <g key={t}>
        <line x1={x - 6} x2={x} y1={scale(t)} y2={scale(t)} stroke={AXIS} strokeWidth={1.2} />
        <text x={x - 9} y={scale(t)} dy="0.35em" textAnchor="end" fontSize={LABEL_SIZE} letterSpacing={LABEL_SPACING}>
          {stataFmt(t)}
        </text>
      </g>
    ))}
  </g>
);

const XAxis = ({ scale, ticks, y }: { scale: d3.ScaleLinear<number, number>; ticks: number[]; y: number }) => (
  <g>
    <line y1={y} y2={y} x1={scale(d3.min(ticks)!)} x2={scale(d3.max(ticks)!)} stroke={AXIS} strokeWidth={1.2} />
    {ticks.map((t) => (
      <g key={t}>
        <line y1={y} y2={y + 6} x1={scale(t)} x2={scale(t)} stroke={AXIS} strokeWidth={1.2} />
        <text x={scale(t)} y={y + 17} dy="0.35em" textAnchor="middle" fontSize={LABEL_SIZE}>
          {stataFmt(t)}
        </text>
      </g>
    ))}
  </g>
);

const ScatterPanel = (props: {
  id: string;
  title: string;
  titleX: number;
  titleY: number;
  yTitle: string;
  yTitleX: number;
  yTitleY: number;
  xTitleX: number;
  xTitleY: number;
  points: [number, number][];
  fit: [number, number][];
  color: string;
  xRange: [number, number];
  yDomain: [number, number];
  yRange: [number, number];
  yTicks: number[];
  box: Box;
  xAxisY: number;
}) => {
  const { box } = props;
  const x = d3.scaleLinear().domain([-2, 2]).range(props.xRange);
  const y = d3.scaleLinear().domain(props.yDomain).range(props.yRange);
  const fitLine = d3.line<[number, number]>().x((d) => x(d[0])).y((d) => y(d[1]));
  return (
    <g>
      <defs>
        <clipPath id={props.id}>
          <rect x={box.left} y={box.top} width={box.right - box.left} height={box.bottom - box.top} />
        </clipPath>
      </defs>
      <text x={props.titleX} y={props.titleY} textAnchor="middle" fontSize={TITLE_SIZE} letterSpacing={TITLE_SPACING}>
        {props.title}
      </text>
      <g clipPath={`url(#${props.id})`}>
        <line x1={x(0)} x2={x(0)} y1={box.top} y2={box.bottom} stroke="#888" strokeWidth={1} strokeDasharray="1.2,2.4" />
        <line x1={box.left} x2={box.right} y1={y(0)} y2={y(0)} stroke="#888" strokeWidth={1} strokeDasharray="1.2,2.4" />
        {props.points.map((p, i) => (
          <circle
            key={i}
            cx={x(p[0])}
            cy={y(p[1])}
            r={3.6}
            fill={props.color}
            fillOpacity={0.28}
            stroke={props.color}
            strokeOpacity={0.34}
            strokeWidth={0.8}
          />
        ))}
        <path d={fitLine(props.fit)!} fill="none" stroke="#3c3c3c" strokeWidth={2.4} />
      </g>
      <YAxis scale={y} ticks={props.yTicks} x={box.left} />
      <XAxis scale={x} ticks={leaderTicksX} y={props.xAxisY} />
      <text
        x={props.xTitleX}
        y={props.xTitleY}
        dy="0.35em"
        textAnchor="middle"
        fontSize={LABEL_SIZE}
        letterSpacing={LABEL_SPACING}
      >
        Person of the Leader (residualized)
      </text>
      <text
        transform={`translate(${props.yTitleX},${props.yTitleY}) rotate(-90)`}
        dy="0.35em"
        textAnchor="middle"
        fontSize={LABEL_SIZE}
        letterSpacing={LABEL_SPACING}
      >
        {props.yTitle}
      </text>
    </g>
  );
};

const SurvivalPanel = () => {
  const x = d3.scaleLinear().domain([0, 60]).range([80, 491.7]);
  const y = d3.scaleLinear().domain([0, 1]).range([494.3, 83.3]);
  const step = d3.line<number>().curve(d3.curveStepAfter);
  const band = d3.area<number>().curve(d3.curveStepAfter);

  const highArea = band
    .x((_, i) => x(highBandTime[i]))
    .y0((_, i) => y(highLower[i]))
    .y1((_, i) => y(highUpper[i]))(highBandTime);
  const lowArea = band
    .x((_, i) => x(lowBandTime[i]))
    .y0((_, i) => y(lowLower[i]))
    .y1((_, i) => y(lowUpper[i]))(lowBandTime);
  const highLine = step.x((_, i) => x(highTime[i])).y((_, i) => y(highSurv[i]))(highTime);
  const lowLine = step.x((_, i) => x(lowTime[i])).y((_, i) => y(lowSurv[i]))(lowTime);

  return (
    <g>
      <text x={253} y={31.5} textAnchor="middle" fontSize={TITLE_SIZE} letterSpacing={TITLE_SPACING}>
        (a) Democratic Survival
      </text>
      <path d={lowArea!} fill="#90353b" fillOpacity={0.6} stroke="#90353b" strokeOpacity={0.35} strokeWidth={1.2} />
      <path d={highArea!} fill="#1a476f" fillOpacity={0.6} stroke="#1a476f" strokeOpacity={0.45} strokeWidth={1.5} />
      <path d={lowLine!} fill="none" stroke="#2a2a2a" strokeWidth={1.5} strokeDasharray="7,5" />
      <path d={highLine!} fill="none" stroke="#000" strokeWidth={1.6} />
      <text x={389} y={124} dy="0.35em" textAnchor="middle" fontSize={13} fontWeight="bold" fill="#fff">
        Lower charisma
      </text>
      <text x={389} y={248} dy="0.35em" textAnchor="middle" fontSize={13} fontWeight="bold" fill="#fff">
        Higher charisma
      </text>
      <YAxis scale={y} ticks={survTicksY} x={69} />
      <XAxis scale={x} ticks={survTicksX} y={505} />
      <text x={287} y={544} dy="0.35em" textAnchor="middle" fontSize={LABEL_SIZE} letterSpacing={LABEL_SPACING}>
        Time (years)
      </text>
      <text
        transform="translate(18,288) rotate(-90)"
        dy="0.35em"
        textAnchor="middle"
        fontSize={LABEL_SIZE}
        letterSpacing={LABEL_SPACING}
      >
        Democratic survival probability
      </text>
    </g>
  );
};

export default function App() {
  return (
    <svg
      width={1000}
      height={1128}
      style={{ position: 'absolute', left: 0, top: 0, background: '#fff' }}
      fontFamily={FONT}
    >
      <rect width={1000} height={1128} fill="#fff" />
      <SurvivalPanel />
      <ScatterPanel
        id="clipB"
        title="(b) Democratic Backsliding"
        titleX={760}
        titleY={31.5}
        yTitle="Liberal Democracy Index (reversed, residualized)"
        yTitleX={526}
        yTitleY={290}
        xTitleX={792}
        xTitleY={544}
        points={backslidingPoints}
        fit={backslidingFit}
        color="#1a476f"
        xRange={[584.3, 981]}
        yDomain={[-0.2, 0.4]}
        yRange={[491.7, 81.3]}
        yTicks={backslidingTicksY}
        box={{ left: 573, right: 1000, top: 71, bottom: 500 }}
        xAxisY={507}
      />
      <ScatterPanel
        id="clipC"
        title="(c) Party Anti-Pluralism"
        titleX={253}
        titleY={605}
        yTitle="Party Anti-Pluralism Index (residualized)"
        yTitleX={18}
        yTitleY={862}
        xTitleX={285}
        xTitleY={1117}
        points={antiPluralismPoints}
        fit={antiPluralismFit}
        color="#90353b"
        xRange={[77.3, 476]}
        yDomain={[-0.5, 1]}
        yRange={[1057, 654]}
        yTicks={antiPluralismTicksY}
        box={{ left: 66, right: 500, top: 643, bottom: 1074 }}
        xAxisY={1080}
      />
      <ScatterPanel
        id="clipD"
        title="(d) Party Personalism"
        titleX={760}
        titleY={605}
        yTitle="Party Personalism Index (residualized)"
        yTitleX={526}
        yTitleY={860}
        xTitleX={790}
        xTitleY={1119}
        points={personalismPoints}
        fit={personalismFit}
        color="#006400"
        xRange={[580.7, 983.3]}
        yDomain={[-4, 4]}
        yRange={[1070.7, 653.3]}
        yTicks={personalismTicksY}
        box={{ left: 569.3, right: 1000, top: 642, bottom: 1076 }}
        xAxisY={1082.3}
      />
    </svg>
  );
}
